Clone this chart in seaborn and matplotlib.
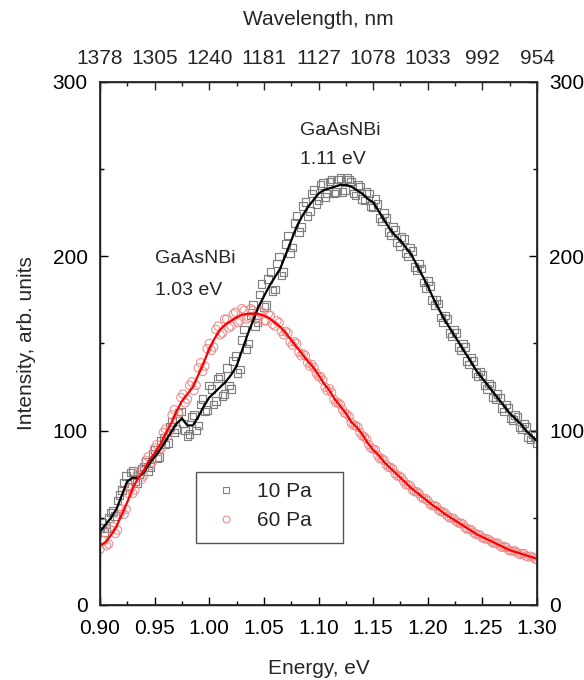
import numpy as np
import pandas as pd
import matplotlib
matplotlib.use("Agg")
import matplotlib.pyplot as plt
from matplotlib.lines import Line2D
from matplotlib.patches import Rectangle
from matplotlib.ticker import MultipleLocator
import seaborn as sns

# ---------------- data ----------------
line_energy = [0.900, 0.905, 0.910, 0.915, 0.920, 0.925, 0.930, 0.935, 0.940, 0.945,
               0.950, 0.955, 0.960, 0.965, 0.970, 0.975, 0.980, 0.985, 0.990, 0.995,
               1.000, 1.005, 1.010, 1.015, 1.020, 1.025, 1.030, 1.035, 1.040, 1.045,
               1.050, 1.055, 1.060, 1.065, 1.070, 1.075, 1.080, 1.085, 1.090, 1.095,
               1.100, 1.105, 1.110, 1.115, 1.120, 1.125, 1.130, 1.135, 1.140, 1.145,
               1.150, 1.155, 1.160, 1.165, 1.170, 1.175, 1.180, 1.185, 1.190, 1.195,
               1.200, 1.205, 1.210, 1.215, 1.220, 1.225, 1.230, 1.235, 1.240, 1.245,
               1.250, 1.255, 1.260, 1.265, 1.270, 1.275, 1.280, 1.285, 1.290, 1.295,
               1.300]

line_10pa = [42, 46, 50, 55, 63, 71, 73, 73, 76, 81,
             85, 89, 94, 99, 104, 107, 103, 103, 108, 114,
             119, 122, 125, 128, 132, 137, 146, 155, 163, 171,
             177, 183, 188, 193, 201, 209, 217, 223, 228, 232,
             236, 238, 239, 240, 241, 241, 240, 238, 236, 233,
             231, 226, 221, 216, 212, 209, 205, 201, 195, 189,
             183, 176, 170, 164, 159, 154, 149, 144, 139, 134,
             130, 126, 122, 118, 114, 110, 107, 104, 100, 97,
             94]

line_60pa = [34, 36, 40, 45, 52, 59, 67, 73, 77, 83,
             87, 92, 98, 104, 111, 117, 121, 125, 132, 139,
             147, 153, 158, 161, 163, 165, 166.5, 167, 167, 167,
             166, 164.5, 162, 159.5, 156, 152, 148, 144, 140, 136.5,
             132, 127, 123, 118, 114, 110, 105, 102, 98, 93,
             89, 86, 82, 79, 76, 73, 70, 67, 64.5, 62,
             59.5, 57, 55, 52.5, 50.5, 48.5, 46.5, 44.5, 42.5, 40.5,
             39, 37.5, 36, 34.5, 33, 31.5, 30.5, 29.5, 28.5, 27.5,
             26.5]

# measured points, first pass (0.900 ... 1.300)
point_energy_a = [0.900, 0.904, 0.908, 0.912, 0.916, 0.920, 0.924, 0.928, 0.932, 0.936,
                  0.940, 0.944, 0.948, 0.952, 0.956, 0.960, 0.964, 0.968, 0.972, 0.976,
                  0.980, 0.984, 0.988, 0.992, 0.996, 1.000, 1.004, 1.008, 1.012, 1.016,
                  1.020, 1.024, 1.028, 1.032, 1.036, 1.040, 1.044, 1.048, 1.052, 1.056,
                  1.060, 1.064, 1.068, 1.072, 1.076, 1.080, 1.084, 1.088, 1.092, 1.096,
                  1.100, 1.104, 1.108, 1.112, 1.116, 1.120, 1.124, 1.128, 1.132, 1.136,
                  1.140, 1.144, 1.148, 1.152, 1.156, 1.160, 1.164, 1.168, 1.172, 1.176,
                  1.180, 1.184, 1.188, 1.192, 1.196, 1.200, 1.204, 1.208, 1.212, 1.216,
                  1.220, 1.224, 1.228, 1.232, 1.236, 1.240, 1.244, 1.248, 1.252, 1.256,
                  1.260, 1.264, 1.268, 1.272, 1.276, 1.280, 1.284, 1.288, 1.292, 1.296,
                  1.300]

points_10pa_a = [44, 42, 50, 54, 60, 66, 74, 76, 71, 75,
                 79, 77, 87, 84, 94, 92, 102, 99, 110, 104,
                 97, 108, 100, 115, 111, 126, 115, 130, 120, 136,
                 124, 143, 135, 158, 150, 172, 162, 184, 172, 191,
                 181, 200, 191, 212, 205, 223, 217, 231, 226, 238,
                 232, 242, 236, 244, 237, 245, 238, 244, 236, 241,
                 233, 237, 229, 233, 222, 225, 214, 217, 208, 211,
                 202, 205, 194, 196, 185, 186, 175, 175, 165, 166,
                 156, 158, 148, 150, 140, 142, 133, 134, 126, 127,
                 119, 121, 113, 115, 107, 109, 102, 104, 96, 98,
                 93]

points_60pa_a = [32, 37, 35, 45, 43, 55, 55, 67, 66, 77,
                 74, 85, 82, 92, 90, 101, 100, 112, 110, 121,
                 118, 128, 126, 139, 137, 150, 148, 160, 156, 164,
                 160, 168, 163, 169, 165, 169, 165, 168, 163, 166,
                 160, 162, 155, 156, 149, 150, 143, 143, 137, 136,
                 131, 129, 123, 122, 116, 115, 110, 108, 103, 102,
                 97, 95, 90, 89, 84, 83, 79, 78, 74, 73,
                 69, 68.5, 65, 64, 61, 60, 57, 56.5, 53.5, 52.5,
                 50, 49.5, 47, 46.5, 43.5, 43, 40.5, 40, 38, 37.5,
                 35.5, 35.5, 33, 33, 31, 31, 29, 29.5, 27.5, 27.5,
                 26]

# measured points, second pass (0.902 ... 1.298)
point_energy_b = [0.902, 0.906, 0.910, 0.914, 0.918, 0.922, 0.926, 0.930, 0.934, 0.938,
                  0.942, 0.946, 0.950, 0.954, 0.958, 0.962, 0.966, 0.970, 0.974, 0.978,
                  0.982, 0.986, 0.990, 0.994, 0.998, 1.002, 1.006, 1.010, 1.014, 1.018,
                  1.022, 1.026, 1.030, 1.034, 1.038, 1.042, 1.046, 1.050, 1.054, 1.058,
                  1.062, 1.066, 1.070, 1.074, 1.078, 1.082, 1.086, 1.090, 1.094, 1.098,
                  1.102, 1.106, 1.110, 1.114, 1.118, 1.122, 1.126, 1.130, 1.134, 1.138,
                  1.142, 1.146, 1.150, 1.154, 1.158, 1.162, 1.166, 1.170, 1.174, 1.178,
                  1.182, 1.186, 1.190, 1.194, 1.198, 1.202, 1.206, 1.210, 1.214, 1.218,
                  1.222, 1.226, 1.230, 1.234, 1.238, 1.242, 1.246, 1.250, 1.254, 1.258,
                  1.262, 1.266, 1.270, 1.274, 1.278, 1.282, 1.286, 1.290, 1.294, 1.298]

points_10pa_b = [47, 44, 53, 51, 63, 70, 68, 77, 70, 78,
                 82, 79, 89, 85, 96, 93, 105, 101, 111, 100,
                 98, 109, 103, 118, 112, 124, 117, 131, 121, 126,
                 140, 133, 152, 147, 166, 160, 178, 171, 187, 180,
                 196, 189, 207, 202, 219, 214, 229, 223, 236, 230,
                 241, 234, 243, 236, 244, 237, 245, 243, 235, 240,
                 232, 236, 228, 230, 220, 222, 212, 215, 206, 210,
                 200, 203, 192, 193, 182, 183, 172, 173, 162, 164,
                 154, 156, 146, 148, 138, 140, 131, 132, 124, 126,
                 118, 119, 111, 113, 106, 108, 101, 102, 95, 97]

points_60pa_b = [37, 34, 43, 41, 52, 52, 64, 64, 75, 72,
                 83, 80, 90, 88, 99, 97, 109, 107, 119, 116,
                 126, 123, 136, 134, 147, 146, 158, 155, 164, 159,
                 167, 162, 170, 164, 170, 164, 169, 163, 167, 161,
                 163, 157, 157, 151, 151, 145, 144, 139, 138, 133,
                 131, 125, 124, 118, 116, 112, 109.5, 104.5, 103, 99,
                 96.5, 92, 89.5, 86, 84, 80.5, 79, 75.5, 74, 71,
                 69, 66, 65, 62, 61, 58, 57, 54.5, 53.5, 51,
                 50, 48, 47, 44.5, 43.5, 41.5, 40.5, 38.5, 38, 36.5,
                 35.5, 34, 33.5, 31.5, 31, 30, 29.5, 28, 28, 26.5]

energy_ticks = [0.90, 0.95, 1.00, 1.05, 1.10, 1.15, 1.20, 1.25, 1.30]
energy_labels = ["0.90", "0.95", "1.00", "1.05", "1.10", "1.15", "1.20", "1.25", "1.30"]
wavelength_labels = ["1378", "1305", "1240", "1181", "1127", "1078", "1033", "992", "954"]
intensity_ticks = [0, 100, 200, 300]

series_names = ["10 Pa", "60 Pa"]

# ---------------- style ----------------
sns.set_theme(style="ticks")
plt.rcParams["font.family"] = ["Liberation Sans", "DejaVu Sans"]

TICK_FS = 15
LABEL_FS = 15
ANN_FS = 14

fig = plt.figure(figsize=(5.84, 6.80), dpi=100)
ax = fig.add_axes([100 / 584, 1 - 605 / 680, 437 / 584, 523 / 680])

pts = pd.DataFrame({
    "E": point_energy_a + point_energy_b + point_energy_a + point_energy_b,
    "I": points_10pa_a + points_10pa_b + points_60pa_a + points_60pa_b,
    "s": [series_names[0]] * (len(point_energy_a) + len(point_energy_b))
         + [series_names[1]] * (len(point_energy_a) + len(point_energy_b)),
})
lines = pd.DataFrame({
    "E": line_energy * 2,
    "I": line_10pa + line_60pa,
    "s": [series_names[0]] * len(line_energy) + [series_names[1]] * len(line_energy),
})

sq_color = "#808080"
ci_color = "#eb8c8c"

sns.scatterplot(data=pts[pts.s == series_names[0]], x="E", y="I", ax=ax, marker="s",
                s=30, facecolor="none", edgecolor=sq_color, linewidth=0.85, legend=False, zorder=2)
sns.scatterplot(data=pts[pts.s == series_names[1]], x="E", y="I", ax=ax, marker="o",
                s=36, facecolor="none", edgecolor=ci_color, linewidth=0.75, legend=False, zorder=2)
sns.lineplot(data=lines[lines.s == series_names[0]], x="E", y="I", ax=ax, color="black",
             linewidth=1.6, legend=False, zorder=3)
sns.lineplot(data=lines[lines.s == series_names[1]], x="E", y="I", ax=ax, color="#ff0000",
             linewidth=1.6, legend=False, zorder=3)

ax.set_xlim(0.90, 1.30)
ax.set_ylim(0, 300)
ax.set_xticks(energy_ticks)
ax.set_xticklabels(energy_labels)
ax.set_yticks(intensity_ticks)
ax.xaxis.set_minor_locator(MultipleLocator(0.025))
ax.yaxis.set_minor_locator(MultipleLocator(50))
ax.tick_params(which="both", direction="in", top=False, right=True, labelright=True,
               labelsize=TICK_FS, colors="black", width=1)
ax.tick_params(axis="x", which="major", length=6, pad=10)
ax.tick_params(axis="y", which="major", length=6, pad=9)
ax.tick_params(which="minor", length=3)
for sp in ax.spines.values():
    sp.set_visible(True)
    sp.set_linewidth(1.0)
    sp.set_color("black")

ax.set_xlabel("Energy, eV", fontsize=LABEL_FS, labelpad=15)
ax.set_ylabel("Intensity, arb. units", fontsize=LABEL_FS, labelpad=12)

top = ax.twiny()
top.set_xlim(ax.get_xlim())
top.set_xticks(energy_ticks)
top.set_xticklabels(wavelength_labels)
top.xaxis.set_minor_locator(MultipleLocator(0.025))
top.tick_params(which="both", direction="in", labelsize=TICK_FS, width=1)
top.tick_params(which="major", length=6, pad=10)
top.tick_params(which="minor", length=3)
top.set_xlabel("Wavelength, nm", fontsize=LABEL_FS, labelpad=17)

ax.text(0.458, 0.908, "GaAsNBi", transform=ax.transAxes, fontsize=ANN_FS, va="center")
ax.text(0.458, 0.851, "1.11 eV", transform=ax.transAxes, fontsize=ANN_FS, va="center")
ax.text(0.126, 0.663, "GaAsNBi", transform=ax.transAxes, fontsize=ANN_FS, va="center")
ax.text(0.126, 0.602, "1.03 eV", transform=ax.transAxes, fontsize=ANN_FS, va="center")

# legend box
ax.add_patch(Rectangle((0.2197, 0.1185), 0.556 - 0.2197, 0.2543 - 0.1185,
                       transform=ax.transAxes, facecolor="white", edgecolor="#555555",
                       linewidth=1.0, zorder=4))
handles = [
    Line2D([], [], linestyle="none", marker="s", markersize=4.5, markerfacecolor="none",
           markeredgecolor=sq_color, markeredgewidth=0.8),
    Line2D([], [], linestyle="none", marker="o", markersize=5, markerfacecolor="none",
           markeredgecolor=ci_color, markeredgewidth=0.8),
]
leg = ax.legend(handles, series_names, loc="upper left", bbox_to_anchor=(0.2197, 0.2543),
                frameon=False, fontsize=TICK_FS, borderpad=0.5, handletextpad=0.55,
                labelspacing=0.45, borderaxespad=0, handlelength=1.9)
leg.set_zorder(5)

fig.savefig("out.png", dpi=100)
